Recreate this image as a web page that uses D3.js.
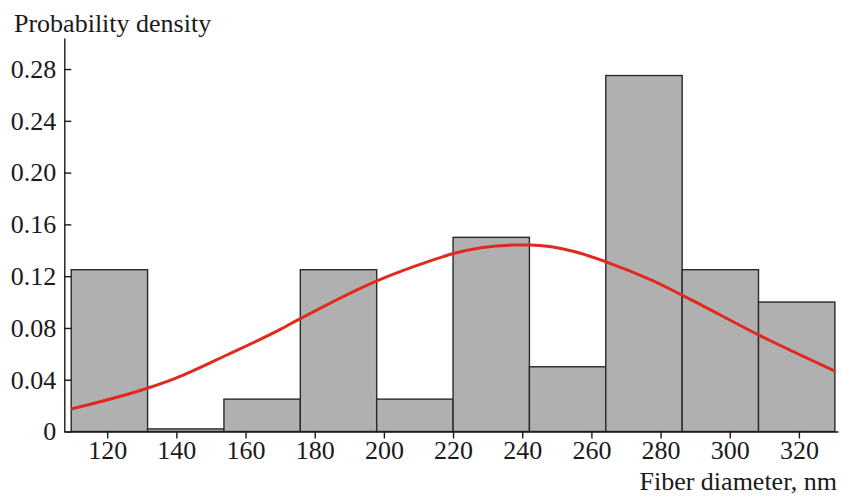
<!DOCTYPE html>
<html>
<head>
<meta charset="utf-8">
<script src="https://cdn.jsdelivr.net/npm/d3@7/dist/d3.min.js"></script>
<style>
  html, body { margin: 0; padding: 0; background: #fff; }
  svg { display: block; }
  text { font-family: "Liberation Serif", "DejaVu Serif", serif; fill: #1a1a1a; }
</style>
</head>
<body>
<svg id="chart" width="842" height="496"></svg>
<script>
// Histogram bin edges (nm) and probability per bin
const binEdges = [109.6, 131.68, 153.76, 175.84, 197.92, 220, 242.08, 264.16, 286.24, 308.32, 330.4];
const binValues = [0.125, 0.002, 0.025, 0.125, 0.025, 0.15, 0.05, 0.275, 0.125, 0.10];

// Fitted distribution curve
const curveX = [109.6, 131.8, 139.7, 154.6, 170.2, 176.0, 198.0, 213.4, 220.1, 237.4, 242.2, 254.7, 264.2, 276.9, 286.2, 308.4, 330.4];
const curveY = [0.0174, 0.0336, 0.0411, 0.0591, 0.0791, 0.0874, 0.1164, 0.1318, 0.1375, 0.1440, 0.1440, 0.1393, 0.1311, 0.1175, 0.1054, 0.0745, 0.0467];

// Axis ticks
const xTicks = [120, 140, 160, 180, 200, 220, 240, 260, 280, 300, 320];
const yTicks = [0, 0.04, 0.08, 0.12, 0.16, 0.20, 0.24, 0.28];
const yTickLabels = ["0", "0.04", "0.08", "0.12", "0.16", "0.20", "0.24", "0.28"];

const FONT = 26;
const svg = d3.select("#chart");

const x = d3.scaleLinear().domain([107.6, 331.3]).range([64.3, 838]);
const y = d3.scaleLinear().domain([0, 0.304]).range([431.5, 38]);

// Bars
const bins = binValues.map((v, i) => ({ x0: binEdges[i], x1: binEdges[i + 1], v }));
svg.append("g")
  .selectAll("rect")
  .data(bins)
  .join("rect")
  .attr("x", d => x(d.x0))
  .attr("width", d => x(d.x1) - x(d.x0))
  .attr("y", d => y(d.v))
  .attr("height", d => y(0) - y(d.v))
  .attr("fill", "#b0b0b0")
  .attr("stroke", "#2a2a2a")
  .attr("stroke-width", 1.4);

// Density curve
const line = d3.line()
  .x(d => x(d[0]))
  .y(d => y(d[1]))
  .curve(d3.curveMonotoneX);
svg.append("path")
  .datum(curveX.map((v, i) => [v, curveY[i]]))
  .attr("d", line)
  .attr("fill", "none")
  .attr("stroke", "#e02a1e")
  .attr("stroke-width", 3);

// X axis
const xAxis = d3.axisBottom(x)
  .tickValues(xTicks)
  .tickSize(7)
  .tickPadding(2)
  .tickSizeOuter(0)
  .tickFormat(d3.format("d"));
const gx = svg.append("g")
  .attr("transform", `translate(0,${y(0)})`)
  .call(xAxis);
gx.select(".domain").attr("stroke", "#1a1a1a").attr("stroke-width", 1.4);
gx.selectAll(".tick line").attr("stroke", "#1a1a1a").attr("stroke-width", 1.4);
gx.selectAll(".tick text")
  .attr("font-size", FONT)
  .attr("font-family", "Liberation Serif, serif")
  .attr("fill", "#1a1a1a");

// Y axis with inward ticks
const yAxis = d3.axisLeft(y)
  .tickValues(yTicks)
  .tickSize(-7)
  .tickPadding(8)
  .tickSizeOuter(0)
  .tickFormat((d, i) => yTickLabels[i]);
const gy = svg.append("g")
  .attr("transform", `translate(${x.range()[0]},0)`)
  .call(yAxis);
gy.select(".domain").attr("stroke", "#1a1a1a").attr("stroke-width", 1.4);
gy.selectAll(".tick line").attr("stroke", "#1a1a1a").attr("stroke-width", 1.4);
gy.selectAll(".tick text")
  .attr("font-size", FONT)
  .attr("font-family", "Liberation Serif, serif")
  .attr("fill", "#1a1a1a");

// Axis titles
svg.append("text")
  .attr("x", 14)
  .attr("y", 32)
  .attr("font-size", FONT)
  .text("Probability density");

svg.append("text")
  .attr("x", 837)
  .attr("y", 489.5)
  .attr("text-anchor", "end")
  .attr("font-size", FONT)
  .text("Fiber diameter, nm");
</script>
</body>
</html>
